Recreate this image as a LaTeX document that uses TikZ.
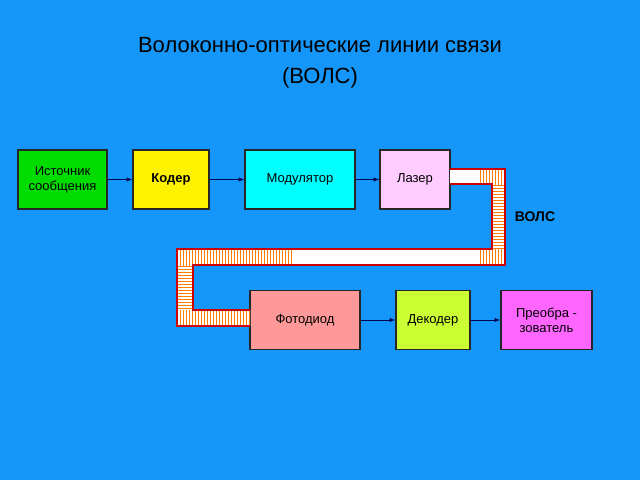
\documentclass[tikz,border=0pt]{standalone}
\usepackage{fontspec}
\setmainfont{Liberation Sans}
\usetikzlibrary{patterns,arrows}
\definecolor{bgblue}{RGB}{20,150,250}
\definecolor{lazer}{RGB}{255,204,255}
\definecolor{foto}{RGB}{255,153,153}
\definecolor{dekod}{RGB}{204,255,51}
\definecolor{preob}{RGB}{255,102,255}
\definecolor{istok}{RGB}{0,220,0}
\definecolor{modul}{RGB}{0,255,255}
\definecolor{navy}{RGB}{0,0,80}
\begin{document}
\begin{tikzpicture}[x=1pt,y=-1pt, line width=1.4pt,
  blk/.style={draw=black!85,minimum height=59pt,font=\fontsize{13}{15}\selectfont,align=center},
  conn/.style={-latex,draw=navy,line width=1pt},
  band/.style={pattern=vertical lines,pattern color=orange},
  vband/.style={pattern=horizontal lines,pattern color=orange}]
\fill[bgblue] (0,0) rectangle (640,480);
\useasboundingbox (0,0) rectangle (640,480);

\node at (320,45) {\fontsize{22}{26}\selectfont Волоконно-оптические линии связи};
\node at (320,78) {\fontsize{22}{26}\selectfont (ВОЛС)};

\node[blk,fill=istok,minimum width=89pt] (ist) at (62.5,179.5) {Источник\\сообщения};
\node[blk,fill=yellow,minimum width=76pt] (kod) at (171,179.5) {\textbf{Кодер}};
\node[blk,fill=modul,minimum width=110pt] (mod) at (300,179.5) {Модулятор};
\node[blk,fill=lazer,minimum width=70pt] (laz) at (415,179.5) {Лазер};
\node[blk,fill=foto,minimum width=110pt] (fot) at (305,320) {Фотодиод};
\node[blk,fill=dekod,minimum width=74pt] (dek) at (433,320) {Декодер};
\node[blk,fill=preob,minimum width=91pt] (pre) at (546.5,320) {Преобра -\\зователь};

\draw[conn] (ist) -- (kod);
\draw[conn] (kod) -- (mod);
\draw[conn] (mod) -- (laz);
\draw[conn] (fot) -- (dek);
\draw[conn] (dek) -- (pre);

% fibre
\fill[white] (450,169) -- (505,169) -- (505,265) -- (193,265) -- (193,310) -- (250,310) -- (250,326)
  -- (177,326) -- (177,249) -- (492,249) -- (492,184) -- (450,184) -- cycle;
\fill[band] (478,169) rectangle (505,184);
\fill[vband] (492,184) rectangle (505,249);
\fill[band] (478,249) rectangle (505,265);
\fill[band] (177,249) rectangle (292,265);
\fill[vband] (177,265) rectangle (193,310);
\fill[band] (177,310) rectangle (250,326);
\draw[red!80!black,line width=1.2pt] (450,169) -- (505,169) -- (505,265) -- (193,265) -- (193,310) -- (250,310);
\draw[red!80!black,line width=1.2pt] (250,326) -- (177,326) -- (177,249) -- (492,249) -- (492,184) -- (450,184);

\node[font=\fontsize{14}{16}\selectfont\bfseries] (vols) at (535,217) {ВОЛС};
\end{tikzpicture}
\end{document}
